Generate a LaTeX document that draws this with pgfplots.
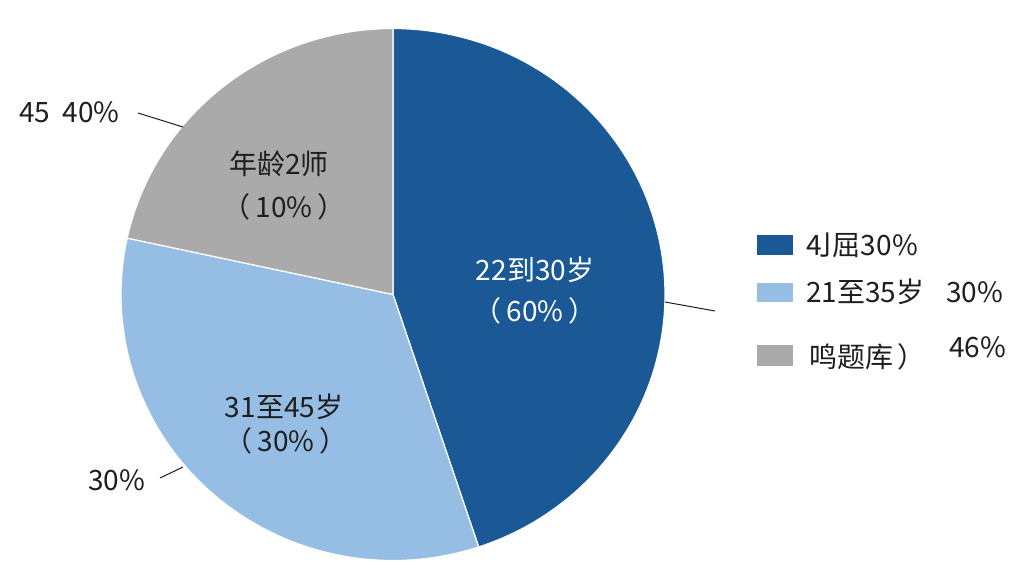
\documentclass[border=0pt]{standalone}
\usepackage{fontspec}
\setmainfont{Noto Sans CJK SC}
\usepackage{pgfplots}
\pgfplotsset{compat=1.18}

\definecolor{darkslice}{RGB}{26,89,150}
\definecolor{lightslice}{RGB}{150,190,228}
\definecolor{grayslice}{RGB}{170,170,170}
\definecolor{txt}{RGB}{30,30,30}

% slice shares (percent)
\def\vA{44.9}
\def\vB{33.5}
\def\vC{21.6}
\pgfmathsetmacro\aA{90}%
\pgfmathsetmacro\aB{\aA-3.6*\vA}%
\pgfmathsetmacro\aC{\aB-3.6*\vB}%
\pgfmathsetmacro\aD{\aC-3.6*\vC}%

\begin{document}%
\begin{tikzpicture}[font=\fontsize{28}{32}\selectfont]
\begin{axis}[
    width=1024pt, height=576pt, scale only axis,
    xmin=0, xmax=1024, ymin=0, ymax=576,
    y dir=reverse, hide axis, clip=false
]
\fill[white] (0,0) rectangle (1024,576);
\filldraw[fill=darkslice, draw=white, line width=1.2pt]
  (393,294.5) -- plot[domain=\aB:\aA, samples=90] ({393+272*cos(\x)},{294.5-266*sin(\x)}) -- cycle;
\filldraw[fill=lightslice, draw=white, line width=1.2pt]
  (393,294.5) -- plot[domain=\aC:\aB, samples=90] ({393+272*cos(\x)},{294.5-266*sin(\x)}) -- cycle;
\filldraw[fill=grayslice, draw=white, line width=1.2pt]
  (393,294.5) -- plot[domain=\aD:\aC, samples=90] ({393+272*cos(\x)},{294.5-266*sin(\x)}) -- cycle;

% labels inside slices
\node[text=white] at (535,270) {22到30岁};
\node[text=white] at (535,311) {（\,60\%\,）};
\node[text=txt] at (279,164) {年龄2师};
\node[text=txt] at (284,207) {（\,10\%\,）};
\node[text=txt] at (284,407) {31至45岁};
\node[text=txt] at (286,441) {（\,30\%\,）};

% outside labels and leader lines
\draw[txt, line width=1pt] (138,113) -- (183,127);
\node[text=txt, anchor=west, inner sep=0pt] at (19,112) {45\ \ 40\%};
\draw[txt, line width=1pt] (160,478) -- (183,467);
\node[text=txt, anchor=west, inner sep=0pt] at (88,480) {30\%};
\draw[txt, line width=1pt] (665,302) -- (715,311);

% legend
\fill[darkslice] (757,235) rectangle (793,255);
\node[text=txt, anchor=west, inner sep=0pt] at (806,245) {4\kern-0.3em亅\kern-0.3em屈30\%};
\fill[lightslice] (757,283) rectangle (793,302);
\node[text=txt, anchor=west, inner sep=0pt] at (806,292) {21至35岁};
\node[text=txt, anchor=west, inner sep=0pt] at (946,292) {30\%};
\fill[grayslice] (757,345) rectangle (793,366);
\node[text=txt, anchor=west, inner sep=0pt] at (809,357) {鸣题库\,）};
\node[text=txt, anchor=west, inner sep=0pt] at (949,347) {46\%};
\end{axis}
\pgfresetboundingbox
\path (current axis.south west) rectangle (current axis.north east);
\end{tikzpicture}%
\end{document}
